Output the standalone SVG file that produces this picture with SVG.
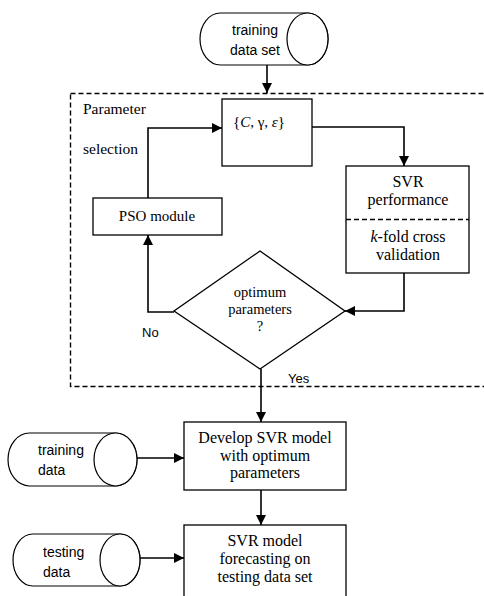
<svg xmlns="http://www.w3.org/2000/svg" width="484" height="596" viewBox="0 0 484 596">
<style>
.box{fill:#fff;stroke:#000;stroke-width:1.3}
.cyl{fill:#fff;stroke:#000;stroke-width:1.2}
.ln{fill:none;stroke:#000;stroke-width:1.6}
.dash{fill:none;stroke:#000;stroke-width:1.4;stroke-dasharray:5,3}
.serif{font-family:"Liberation Serif","Times New Roman",serif;font-size:16px;fill:#000}
.sans{font-family:"Liberation Sans",Arial,sans-serif;font-size:14px;fill:#000}
.mid{text-anchor:middle}
</style>
<defs>
<marker id="arr" viewBox="0 0 10 10" refX="10" refY="5" markerWidth="10" markerHeight="10" markerUnits="userSpaceOnUse" orient="auto">
<path d="M0,0 L10,5 L0,10 Z" fill="#000"/>
</marker>
</defs>

<g id="parameter-region">
<rect class="dash" x="70.5" y="93.5" width="430" height="293"/>
<text class="serif" x="83" y="114" style="font-size:15.5px">Parameter</text>
<text class="serif" x="83" y="154" style="font-size:15.5px">selection</text>
</g>

<g id="training-data-set">
<path class="cyl" d="M220.5,13 H307.5 A20.5,26 0 0 1 307.5,65 H220.5 A20.5,26 0 0 1 220.5,13 Z"/>
<ellipse class="cyl" cx="307.5" cy="39" rx="20.5" ry="26"/>
<text class="sans mid" x="255" y="35">training</text>
<text class="sans mid" x="255" y="55">data set</text>
</g>

<g id="params">
<rect class="box" x="222" y="99" width="90" height="67"/>
<text class="serif" x="233" y="127" style="font-size:15px">{<tspan font-style="italic">C</tspan>, γ, <tspan font-style="italic">ε</tspan>}</text>
</g>

<g id="svr-performance">
<rect class="box" x="346" y="166" width="123" height="107"/>
<line class="dash" x1="346" y1="219.5" x2="469" y2="219.5"/>
<text class="serif mid" x="408" y="187">SVR</text>
<text class="serif mid" x="408" y="205">performance</text>
<text class="serif mid" x="408" y="242"><tspan font-style="italic">k</tspan>-fold cross</text>
<text class="serif mid" x="408" y="260">validation</text>
</g>

<g id="pso-module">
<rect class="box" x="93" y="198" width="129" height="37"/>
<text class="serif mid" x="157" y="221" style="font-size:15px">PSO module</text>
</g>

<g id="optimum-decision">
<polygon class="box" points="260,251 345,311 260,369 174,311"/>
<text class="serif mid" x="260" y="297" style="font-size:14.5px">optimum</text>
<text class="serif mid" x="260" y="314" style="font-size:14.5px">parameters</text>
<text class="serif mid" x="260" y="331" style="font-size:14.5px">?</text>
</g>

<g id="develop-svr">
<rect class="box" x="184" y="422" width="162" height="68"/>
<text class="serif mid" x="265" y="443">Develop SVR model</text>
<text class="serif mid" x="265" y="461">with optimum</text>
<text class="serif mid" x="265" y="478">parameters</text>
</g>

<g id="training-data">
<path class="cyl" d="M29.5,433 H115.5 A21.5,26.5 0 0 1 115.5,486 H29.5 A21.5,26.5 0 0 1 29.5,433 Z"/>
<ellipse class="cyl" cx="115.5" cy="459.5" rx="21.5" ry="26.5"/>
<text class="sans" x="38" y="455">training</text>
<text class="sans" x="38" y="475">data</text>
</g>

<g id="svr-forecasting">
<rect class="box" x="184" y="525" width="162" height="80"/>
<text class="serif mid" x="265" y="546">SVR model</text>
<text class="serif mid" x="265" y="564">forecasting on</text>
<text class="serif mid" x="265" y="582">testing data set</text>
</g>

<g id="testing-data">
<path class="cyl" d="M33,534 H120 A20,26 0 0 1 120,586 H33 A20,26 0 0 1 33,534 Z"/>
<ellipse class="cyl" cx="120" cy="560" rx="20" ry="26"/>
<text class="sans" x="43" y="557">testing</text>
<text class="sans" x="43" y="577">data</text>
</g>

<g id="connectors">
<line class="ln" x1="267" y1="65" x2="267" y2="93" marker-end="url(#arr)"/>
<polyline class="ln" points="312,127 404,127 404,166" marker-end="url(#arr)"/>
<polyline class="ln" points="404,273 404,311 345,311" marker-end="url(#arr)"/>
<polyline class="ln" points="174,312 148,312 148,235" marker-end="url(#arr)"/>
<polyline class="ln" points="148,198 148,128 222,128" marker-end="url(#arr)"/>
<line class="ln" x1="261" y1="369" x2="261" y2="422" marker-end="url(#arr)"/>
<line class="ln" x1="137" y1="458" x2="184" y2="458" marker-end="url(#arr)"/>
<line class="ln" x1="261" y1="490" x2="261" y2="525" marker-end="url(#arr)"/>
<line class="ln" x1="140" y1="558" x2="184" y2="558" marker-end="url(#arr)"/>
<text class="sans" x="142" y="337" style="font-size:13px">No</text>
<text class="sans" x="288" y="383" style="font-size:13px">Yes</text>
</g>
</svg>
